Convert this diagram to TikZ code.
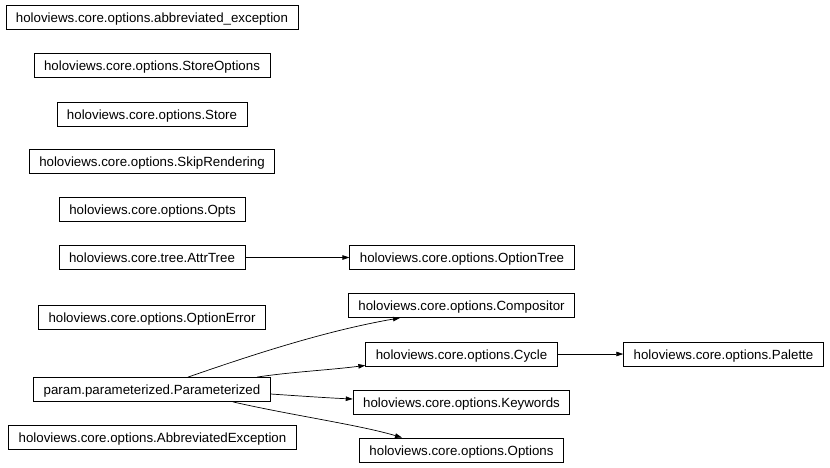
\documentclass[tikz,border=0pt]{standalone}
\usepackage{fontspec}
\setmainfont{Liberation Sans}
\usetikzlibrary{arrows.meta}
\begin{document}
\begin{tikzpicture}[x=1pt,y=-1pt,
  cls/.style={draw=black,line width=0.8pt,font=\fontsize{13.3}{15}\selectfont,inner xsep=10pt,inner ysep=0pt,minimum height=24pt,text height=12pt,text depth=2pt},
  edge/.style={draw=black,line width=0.7pt,-{Triangle[length=7pt,width=4.5pt]}}]
\useasboundingbox (0,0) rectangle (830,467);
\node[cls] (ae) at (152,17) {holoviews.core.options.abbreviated\_exception};
\node[cls] (so) at (152,65) {holoviews.core.options.StoreOptions};
\node[cls] (st) at (152,114) {holoviews.core.options.Store};
\node[cls] (sr) at (152,161) {holoviews.core.options.SkipRendering};
\node[cls] (op) at (152.5,209.5) {holoviews.core.options.Opts};
\node[cls] (at) at (152,257.5) {holoviews.core.tree.AttrTree};
\node[cls] (ot) at (462,257.5) {holoviews.core.options.OptionTree};
\node[cls] (co) at (461.5,305.5) {holoviews.core.options.Compositor};
\node[cls] (oe) at (152,317) {holoviews.core.options.OptionError};
\node[cls] (cy) at (461.5,354) {holoviews.core.options.Cycle};
\node[cls] (pa) at (723.5,354) {holoviews.core.options.Palette};
\node[cls] (pz) at (152,389.5) {param.parameterized.Parameterized};
\node[cls] (kw) at (461.5,402) {holoviews.core.options.Keywords};
\node[cls] (ab) at (152.5,437) {holoviews.core.options.AbbreviatedException};
\node[cls] (os) at (461.5,450) {holoviews.core.options.Options};

\draw[edge] (at.east) -- (ot.west);
\draw[edge] (cy.east) -- (pa.west);
\draw[edge] ([xshift=36pt]pz.north) .. controls (260,352) and (330,330) .. ([xshift=-61.5pt]co.south);
\draw[edge] ([xshift=105pt]pz.north) .. controls (290,372) and (330,370) .. ([yshift=1pt]cy.south west);
\draw[edge] ([yshift=-4.5pt]pz.east) .. controls (300,396) and (330,398) .. ([yshift=3pt]kw.west);
\draw[edge] ([xshift=81pt]pz.south) .. controls (290,415) and (360,425) .. ([xshift=-59.5pt]os.north);
\end{tikzpicture}
\end{document}
